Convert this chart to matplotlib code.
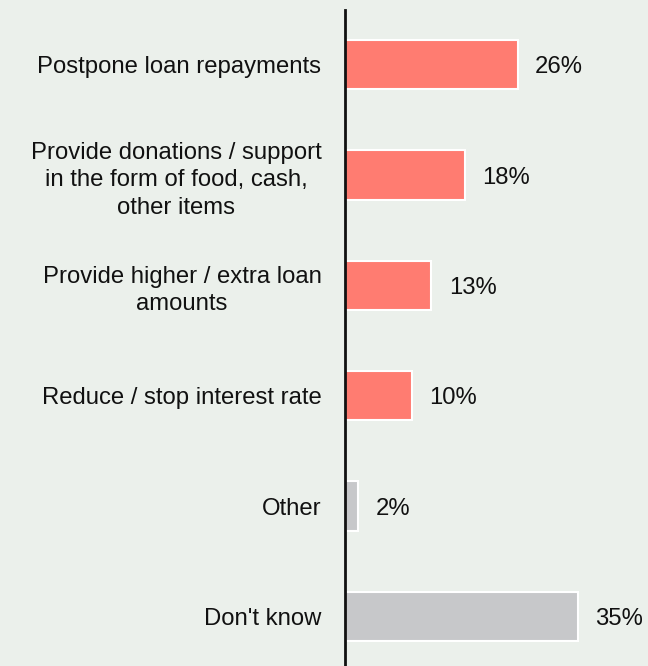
import matplotlib
matplotlib.use("Agg")
import matplotlib.pyplot as plt

categories = [
    "Postpone loan repayments",
    "Provide donations / support\nin the form of food, cash,\nother items",
    "Provide higher / extra loan\namounts",
    "Reduce / stop interest rate",
    "Other",
    "Don't know",
]
values = [26, 18, 13, 10, 2, 35]
value_labels = ["26%", "18%", "13%", "10%", "2%", "35%"]
highlight = [True, True, True, True, False, False]

BG = "#EBF0EB"
SALMON = "#FF7C71"
GREY = "#C7C8CA"

plt.rcParams["font.family"] = ["Liberation Sans", "DejaVu Sans"]

fig = plt.figure(figsize=(6.48, 6.66), dpi=100, facecolor=BG)
ax = fig.add_axes([0.5324, 0.0, 0.4676, 0.9857], facecolor=BG)

ypos = list(range(len(categories)))
colors = [SALMON if h else GREY for h in highlight]
ax.barh(ypos, values, height=0.445, color=colors, edgecolor="white", linewidth=1.5)

for y, v, lab in zip(ypos, values, value_labels):
    ax.text(v + 2.6, y, lab, va="center_baseline", ha="left", fontsize=17.2,
            color="#111111")

ax.set_xlim(0, 45.56)
ax.set_ylim(5.45, -0.5)

ax.set_yticks(ypos)
ax.set_yticklabels(categories, fontsize=17.2, color="#111111", multialignment="center",
                   linespacing=1.32)
ax.tick_params(axis="y", length=0, pad=17)
ax.set_xticks([])

for side in ("top", "right", "bottom"):
    ax.spines[side].set_visible(False)
ax.spines["left"].set_linewidth(2)
ax.spines["left"].set_color("#111111")

fig.savefig("out.png", dpi=100, facecolor=BG)
